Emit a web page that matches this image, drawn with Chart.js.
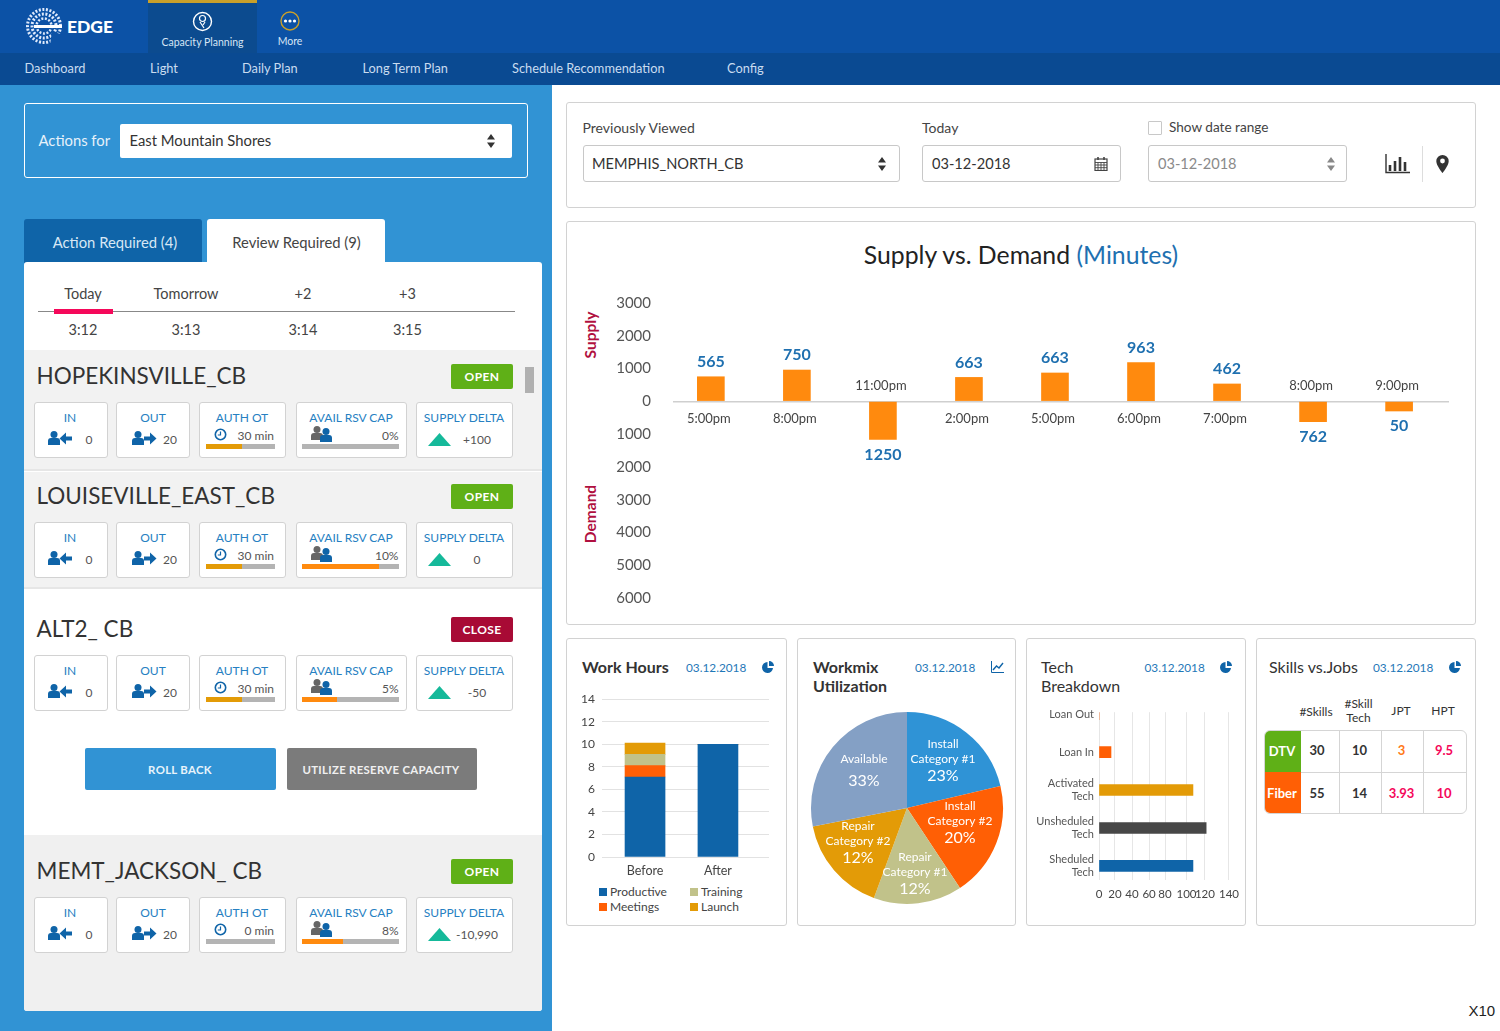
<!DOCTYPE html>
<html>
<head>
<meta charset="utf-8">
<title>Edge - Capacity Planning</title>
<script src="https://cdn.jsdelivr.net/npm/chart.js@4/dist/chart.umd.min.js"></script>
<style>
  html, body { margin: 0; padding: 0; background: #fff; width: 1500px; height: 1031px; overflow: hidden; font-family: Lato, sans-serif; color: #333; }
  .box { position: absolute; box-sizing: border-box; }
  .t { position: absolute; white-space: nowrap; transform: translateY(-50%); margin-top: -1px; }
  .c { position: absolute; white-space: nowrap; transform: translate(-50%, -50%); text-align: center; margin-top: -1px; }
  .r { position: absolute; white-space: nowrap; transform: translate(-100%, -50%); margin-top: -1px; }
  .card { position: absolute; box-sizing: border-box; background: #fff; border: 1px solid #d2d2d2; border-radius: 3px; }
  .field { position: absolute; box-sizing: border-box; background: #fff; border: 1px solid #c8c8c8; border-radius: 3px; }
  canvas { position: absolute; }
  svg { position: absolute; }
  .lab { color: #2680c2; font-size: 12px; }
  .val { color: #555; font-size: 12px; }
  .date { color: #1f78b8; font-size: 11.8px; }
  .nav { color: #c9dcf0; font-size: 12.8px; }
</style>
</head>
<body>
<div id="page"></div>
<canvas id="supplyChart" width="850" height="357" style="left:610px;top:272px"></canvas>
<canvas id="workChart" width="205" height="195" style="left:575px;top:685px"></canvas>
<canvas id="mixChart" width="200" height="200" style="left:807px;top:708px"></canvas>
<canvas id="techChart" width="216" height="214" style="left:1030px;top:694px"></canvas>

<script>
// Supply vs demand: bar heights read against the axis, printed figures kept apart
const SUPPLY_TIMES = ['5:00pm', '8:00pm', '11:00pm', '2:00pm', '5:00pm', '6:00pm', '7:00pm', '8:00pm', '9:00pm'];
const SUPPLY_BARS = [750, 955, -1160, 730, 865, 1180, 530, -620, -295];
const SUPPLY_LABELS = ['565', '750', '1250', '663', '663', '963', '462', '762', '50'];

// Work hours
const WORK_CATEGORIES = ['Before', 'After'];
const WORK_PRODUCTIVE = [7.1, 10];
const WORK_MEETINGS = [1, 0];
const WORK_TRAINING = [1, 0];
const WORK_LAUNCH = [1, 0];

const MIX_NAMES = [['Install', 'Category #1'], ['Install', 'Category #2'], ['Repair', 'Category #1'], ['Repair', 'Category #2'], ['Available']];
const MIX_SLICES = [21.3, 19.4, 14.9, 16.3, 28.1];
const MIX_PRINTED = ['23%', '20%', '12%', '12%', '33%'];
const MIX_COLORS = ['#2f93d6', '#ff5f05', '#c1c28a', '#e39b07', '#84a0c5'];
const MIX_LABEL_SPOTS = [[36, -49], [53, 13], [8, 64], [-49, 33], [-43, -39]];

// Tech breakdown
const TECH_CATEGORIES = ['Loan Out', 'Loan In', ['Activated', 'Tech'], ['Unsheduled', 'Tech'], ['Sheduled', 'Tech']];
const TECH_VALUES = [0, 15, 107, 121, 107];
const TECH_COLORS = ['#ff5f05', '#ff5f05', '#e39b07', '#474747', '#0f64a8'];
// the axis of this chart is not evenly spaced: share of the width at 0, 20, ... 140
const TECH_TICK_STOPS = [0, 0.123, 0.254, 0.385, 0.508, 0.673, 0.815, 1];

// Skills table
const SKILL_ROWS = ['DTV', 'Fiber'];
const SKILL_COUNTS = [30, 55];
const SKILL_TECHS = [10, 14];
const SKILL_JPT = ['3', '3.93'];
const SKILL_HPT = ['9.5', '10'];

// Left panel stations
const STATION_NAMES = ['HOPEKINSVILLE_CB', 'LOUISEVILLE_EAST_CB', 'ALT2_ CB', 'MEMT_JACKSON_ CB'];
const STATION_STATE = ['OPEN', 'OPEN', 'CLOSE', 'OPEN'];
const STATION_OT = ['30 min', '30 min', '30 min', '0 min'];
const STATION_OT_FILL = [53, 53, 53, 0];
const STATION_RSV = ['0%', '10%', '5%', '8%'];
const STATION_RSV_FILL = [0, 80, 36, 42];
const STATION_DELTA = ['+100', '0', '-50', '-10,990'];

const BLUE = '#0f64a8';
let html = '';

function text(cls, x, y, str, style) {
    html += `<div class="${cls}" style="left:${x}px;top:${y}px;${style || ''}">${str}</div>`;
}
function rect(x, y, w, h, style) {
    html += `<div class="box" style="left:${x}px;top:${y}px;width:${w}px;height:${h}px;${style || ''}"></div>`;
}
function svg(x, y, w, h, body, extra) {
    html += `<svg style="left:${x}px;top:${y}px" width="${w}" height="${h}" viewBox="0 0 ${w} ${h}" ${extra || ''}>${body}</svg>`;
}
function person(x, y, color) {
    return `<circle cx="${x + 6}" cy="${y + 3.5}" r="3.5" fill="${color}"/><path d="M${x} ${y + 14}v-4q0-3 3-3h6q3 0 3 3v4z" fill="${color}"/>`;
}
function updown(x, y, color) {
    svg(x, y, 10, 14, `<path d="M5 0l4 5.5H1zM5 14l4-5.5H1z" fill="${color}"/>`);
}
function pieIcon(x, y) {
    svg(x, y, 12, 12, `<path d="M5.5 1A5.5 5.5 0 1 0 11 7H5.5z" fill="${BLUE}"/><path d="M7 0a5 5 0 0 1 5 5H7z" fill="${BLUE}"/>`);
}

// header
rect(0, 0, 1500, 53, 'background:#0c52a6');
rect(0, 53, 1500, 32, 'background:#0a4a92');
rect(148, 0, 109, 53, 'background:#0c4b8f');
rect(148, 0, 109, 3, 'background:#c9a02a');
svg(26, 8, 38, 37, `
  <g fill="none" stroke="#dfeafc">
    <circle cx="18" cy="18" r="16.5" stroke-width="3" stroke-dasharray="2 1.6"/>
    <circle cx="18" cy="18" r="12" stroke-width="3" stroke-dasharray="2 1.6"/>
    <circle cx="18" cy="18" r="7.5" stroke-width="2.5" stroke-dasharray="2 1.6"/>
  </g>
  <path d="M8 18.5H36" stroke="#fff" stroke-width="3"/>
  <path d="M26 23L37 27L37 37L24 37z" fill="#0c52a6"/>`);
text('t', 67, 27, 'EDGE', 'color:#fff;font-size:17.5px;font-weight:900');
svg(192, 11, 21, 21, `<circle cx="10.5" cy="10.5" r="9" fill="none" stroke="#fff" stroke-width="1.4"/><circle cx="10.5" cy="7.5" r="3" fill="none" stroke="#fff" stroke-width="1.2"/><path d="M8 11l4 6M13 11l-2 3" stroke="#fff" stroke-width="1.2"/>`);
text('c', 202.5, 43, 'Capacity Planning', 'color:#d6e5f5;font-size:10.5px');
svg(280, 11, 20, 20, `<circle cx="10" cy="10" r="9" fill="none" stroke="#c9a02a" stroke-width="1.4"/><circle cx="5.5" cy="10" r="1.6" fill="#fff"/><circle cx="10" cy="10" r="1.6" fill="#fff"/><circle cx="14.5" cy="10" r="1.6" fill="#fff"/>`);
text('c', 290, 42, 'More', 'color:#d6e5f5;font-size:10.5px');
[['Dashboard', 24.5], ['Light', 150], ['Daily Plan', 242], ['Long Term Plan', 362.5], ['Schedule Recommendation', 512], ['Config', 727]]
    .forEach(n => text('t nav', n[1], 69, n[0]));

// left panel
rect(0, 85, 552, 946, 'background:#3193d4');
rect(24, 103, 504, 75, 'border:1px solid #fff;border-radius:3px');
text('t', 38.5, 141, 'Actions for', 'color:#e6f1fa;font-size:14.8px');
rect(120, 124, 392, 34, 'background:#fff;border-radius:2px');
text('t', 129.5, 141, 'East Mountain Shores', 'font-size:14.8px;color:#333');
updown(486, 134, '#333');

rect(24, 219, 177.5, 44, 'background:#0f64a8;border-radius:3px 3px 0 0');
text('c', 115, 242.5, 'Action Required (4)', 'color:#d8e8f5;font-size:14.8px');
rect(207, 219, 177.5, 44, 'background:#fff;border-radius:3px 3px 0 0');
text('c', 296.5, 242.5, 'Review Required (9)', 'color:#444;font-size:14.8px');
rect(24, 262, 518, 749, 'background:#fff;border-radius:3px');

[['Today', '3:12', 83], ['Tomorrow', '3:13', 186], ['+2', '3:14', 303], ['+3', '3:15', 407.5]].forEach(d => {
    text('c', d[2], 294, d[0], 'font-size:14.5px;color:#444');
    text('c', d[2], 329.5, d[1], 'font-size:14.5px;color:#444');
});
rect(38, 311, 476.5, 1, 'background:#888');
rect(53.5, 309, 59, 5, 'background:#f5085a');

// grey bands behind the stations
rect(24, 350, 518, 121, 'background:#f2f2f2;border-bottom:2px solid #e6e6e6');
rect(24, 472, 518, 117, 'background:#f2f2f2;border-bottom:2px solid #e6e6e6');
rect(24, 835, 518, 176, 'background:#f0f0f0;border-radius:0 0 3px 3px');
rect(525, 367, 8.5, 26, 'background:#b0b0b0');

const STATION_TOPS = [401.5, 521.5, 654.5, 896.5];
STATION_NAMES.forEach((name, i) => {
    const top = STATION_TOPS[i];
    text('t', 36.5, top - 25.5, name, 'font-size:22.5px;color:#333');
    const closed = STATION_STATE[i] === 'CLOSE';
    rect(451, top - 38, 62, 25.5, `background:${closed ? '#a80a35' : '#5fb017'};border-radius:2px`);
    text('c', 482, top - 25, STATION_STATE[i], 'color:#fff;font-size:12px;font-weight:700;letter-spacing:.4px');

    const card = (x, w) => { html += `<div class="card" style="left:${x}px;top:${top}px;width:${w}px;height:56.5px"></div>`; };
    card(34, 74); card(116, 74); card(199, 87); card(295.5, 111.5); card(416, 97);

    text('c lab', 70, top + 16.5, 'IN');
    svg(48, top + 28, 25, 16, person(0, 1, BLUE) + `<path d="M24 6.5H18V2.5L11.5 8.5L18 14.5V10.5H24z" fill="${BLUE}"/>`);
    text('c val', 89, top + 38, '0');

    text('c lab', 153, top + 16.5, 'OUT');
    svg(132, top + 28, 25, 16, person(0, 1, BLUE) + `<path d="M12 6.5H18V2.5L24.5 8.5L18 14.5V10.5H12z" fill="${BLUE}"/>`);
    text('c val', 170, top + 38, '20');

    text('c lab', 242, top + 16.5, 'AUTH OT');
    svg(214, top + 26, 13, 13, `<circle cx="6.5" cy="6.5" r="5.2" fill="none" stroke="${BLUE}" stroke-width="1.6"/><path d="M6.5 3.5V7H3.8" fill="none" stroke="${BLUE}" stroke-width="1.2"/>`);
    text('r val', 274, top + 34, STATION_OT[i]);
    rect(206, top + 42, 68.5, 5.5, 'background:#b4b4b4');
    rect(206, top + 42, 68.5 * STATION_OT_FILL[i] / 100, 5.5, 'background:#e39b07');

    text('c lab', 351, top + 16.5, 'AVAIL RSV CAP');
    svg(311, top + 24, 22, 16, person(0, 0, '#666') + person(9, 2, BLUE));
    text('r val', 398.5, top + 34, STATION_RSV[i]);
    rect(302, top + 42, 96.5, 5.5, 'background:#b4b4b4');
    rect(302, top + 42, 96.5 * STATION_RSV_FILL[i] / 100, 5.5, 'background:#ff8a0e');

    text('c lab', 464, top + 16.5, 'SUPPLY DELTA');
    svg(428, top + 31, 23, 13, '<path d="M11.5 0L23 13H0z" fill="#15b99a"/>');
    text('c val', 477, top + 38, STATION_DELTA[i]);
});
rect(85, 748, 190.5, 42, 'background:#3193d4;border-radius:2px');
text('c', 180, 770, 'ROLL BACK', 'color:#e8f3fb;font-size:11.4px;font-weight:700;letter-spacing:.3px');
rect(287, 748, 190, 42, 'background:#7b7b7b;border-radius:2px');
text('c', 381, 770, 'UTILIZE RESERVE CAPACITY', 'color:#f0f0f0;font-size:11.4px;font-weight:700;letter-spacing:.3px');

// filter card
html += '<div class="card" style="left:566px;top:102px;width:910px;height:106px"></div>';
text('t', 582.5, 127.5, 'Previously Viewed', 'font-size:14px;color:#444');
text('t', 922, 127.5, 'Today', 'font-size:14px;color:#444');
rect(1147.5, 121, 14, 14, 'background:#fff;border:1px solid #c8c8c8;border-radius:1px');
text('t', 1169, 128, 'Show date range', 'font-size:13.6px;color:#444');
[[582.5, 317.5], [922, 199], [1147.5, 199.5]].forEach(f => {
    html += `<div class="field" style="left:${f[0]}px;top:145px;width:${f[1]}px;height:37px"></div>`;
});
text('t', 592, 163.5, 'MEMPHIS_NORTH_CB', 'font-size:14.6px;color:#333');
text('t', 932, 163.5, '03-12-2018', 'font-size:14.6px;color:#333');
text('t', 1158, 163.5, '03-12-2018', 'font-size:14.6px;color:#8a8a8a');
updown(877, 157, '#333');
updown(1325.5, 157, '#888');
svg(1094, 157, 14, 14, '<rect x="1" y="2" width="12" height="11.5" fill="none" stroke="#444" stroke-width="1.2"/><path d="M1 5.5H13M1 8H13M1 10.7H13M4 5.5V13.5M7 5.5V13.5M10 5.5V13.5" stroke="#444" stroke-width=".9"/><path d="M4 0V3M10 0V3" stroke="#444" stroke-width="1.6"/>');
svg(1385, 154, 25, 20, '<path d="M1 0V18.5H25" fill="none" stroke="#333" stroke-width="1.4"/><path d="M5 11v6M10 7v10M15 3v14M20 8v9" stroke="#333" stroke-width="2.6"/>');
rect(1422, 146, 1, 36, 'background:#ddd');
svg(1436, 155, 13, 18, '<path d="M6.5 0A6.2 6.2 0 0 0 .3 6.2C.3 10.5 6.5 18 6.5 18S12.7 10.5 12.7 6.2A6.2 6.2 0 0 0 6.5 0z" fill="#333"/><circle cx="6.5" cy="6" r="2.4" fill="#fff"/>');

// supply vs demand card
html += '<div class="card" style="left:566px;top:221px;width:910px;height:404px"></div>';
text('c', 1021, 254.5, 'Supply vs. Demand <span style="color:#1f70b0">(Minutes)</span>', 'font-size:24.8px;color:#222');
text('c', 590, 336, 'Supply', 'transform:translate(-50%,-50%) rotate(-90deg);color:#b01040;font-size:15.5px;font-weight:700');
text('c', 590, 514.5, 'Demand', 'transform:translate(-50%,-50%) rotate(-90deg);color:#b01040;font-size:15.5px;font-weight:700');

// bottom cards
[[566, 220.5], [796.5, 219], [1026, 219.5], [1255.5, 220]].forEach(c => {
    html += `<div class="card" style="left:${c[0]}px;top:638px;width:${c[1]}px;height:288px"></div>`;
});
text('t', 582, 667, 'Work Hours', 'font-size:16px;font-weight:700;color:#333');
text('t date', 686, 667.5, '03.12.2018'); pieIcon(762, 661);
text('t', 813, 667, 'Workmix', 'font-size:16px;font-weight:700;color:#333');
text('t', 813, 686, 'Utilization', 'font-size:16px;font-weight:700;color:#333');
text('t date', 915, 667.5, '03.12.2018');
svg(991, 661, 13, 12, `<path d="M.5 0V11.5H13" fill="none" stroke="${BLUE}"/><path d="M2 9L5.5 5L8 7L12 2" fill="none" stroke="${BLUE}" stroke-width="1.4"/>`);
text('t', 1041, 667, 'Tech', 'font-size:16px;color:#333');
text('t', 1041, 686, 'Breakdown', 'font-size:16px;color:#333');
text('t date', 1144.5, 667.5, '03.12.2018'); pieIcon(1220, 661);
text('t', 1269, 667, 'Skills vs.Jobs', 'font-size:16px;color:#333');
text('t date', 1373, 667.5, '03.12.2018'); pieIcon(1449, 661);

// work hours legend, two columns
const LEGEND_COLORS = ['#0f64a8', '#c1c28a', '#ff5f05', '#e39b07'];
[['Productive', 599, 892], ['Training', 690, 892], ['Meetings', 599, 907], ['Launch', 690, 907]].forEach((l, i) => {
    rect(l[1], l[2] - 4, 8, 8, `background:${LEGEND_COLORS[i]}`);
    text('t', l[1] + 11, l[2], l[0], 'font-size:12px;color:#444');
});

// skills table
text('c', 1316, 712, '#Skills', 'font-size:12px;color:#333');
text('c', 1358.5, 703.5, '#Skill', 'font-size:12px;color:#333');
text('c', 1358.5, 717.5, 'Tech', 'font-size:12px;color:#333');
text('c', 1401, 711, 'JPT', 'font-size:12px;color:#333');
text('c', 1443, 711, 'HPT', 'font-size:12px;color:#333');
html += '<div class="box" style="left:1264px;top:729.5px;width:203px;height:84px;border:1px solid #d5d5d5;border-radius:6px;overflow:hidden">'
    + '<div class="box" style="left:0;top:0;width:36px;height:41px;background:#5fb017"></div>'
    + '<div class="box" style="left:0;top:41px;width:36px;height:42px;background:#ff5f05"></div>'
    + '<div class="box" style="left:36px;top:41px;width:166px;height:1px;background:#d5d5d5"></div>'
    + '<div class="box" style="left:74px;top:0;width:1px;height:84px;background:#d5d5d5"></div>'
    + '<div class="box" style="left:116px;top:0;width:1px;height:84px;background:#d5d5d5"></div>'
    + '<div class="box" style="left:158px;top:0;width:1px;height:84px;background:#d5d5d5"></div>'
    + '</div>';
const ROW_Y = [751, 793.5];
SKILL_ROWS.forEach((name, i) => {
    text('c', 1282, ROW_Y[i] + 0.5, name, 'color:#fff;font-size:13px;font-weight:700');
    text('c', 1317, ROW_Y[i], SKILL_COUNTS[i], 'font-size:13px;font-weight:700;color:#333');
    text('c', 1359.5, ROW_Y[i], SKILL_TECHS[i], 'font-size:13px;font-weight:700;color:#333');
    text('c', 1401.5, ROW_Y[i], SKILL_JPT[i], `font-size:13px;font-weight:700;color:${i === 0 ? '#ff7a1a' : '#f5085a'}`);
    text('c', 1444, ROW_Y[i], SKILL_HPT[i], 'font-size:13px;font-weight:700;color:#f5085a');
});

text('t', 1468.5, 1011, 'X10', 'font-family:Liberation Sans,sans-serif;font-size:15px;color:#222');
document.getElementById('page').innerHTML = html;

Chart.defaults.font.family = 'Lato';
Chart.defaults.animation = false;
Chart.defaults.responsive = false;
Chart.defaults.devicePixelRatio = 1;
Chart.defaults.plugins.legend.display = false;
Chart.defaults.plugins.tooltip.enabled = false;

// linear scale whose 20-unit steps have the uneven widths of the tech breakdown axis
class SteppedScale extends Chart.LinearScale {
    getPixelForValue(value) {
        const i = Math.min(Math.floor(value / 20), TECH_TICK_STOPS.length - 2);
        const a = TECH_TICK_STOPS[i];
        const b = TECH_TICK_STOPS[i + 1];
        return this.getPixelForDecimal(a + (b - a) * (value / 20 - i));
    }
}
SteppedScale.id = 'stepped';
SteppedScale.defaults = {};
Chart.register(SteppedScale);

// writes the time and the value next to each supply/demand bar
const supplyTextPlugin = {
    id: 'supplyText',
    afterDatasetsDraw(chart) {
        const ctx = chart.ctx;
        const zero = chart.scales.y.getPixelForValue(0);
        ctx.save();
        ctx.textAlign = 'center';
        ctx.textBaseline = 'middle';
        chart.getDatasetMeta(0).data.forEach((bar, i) => {
            const up = SUPPLY_BARS[i] > 0;
            ctx.font = '13px Lato';
            ctx.fillStyle = '#444';
            ctx.fillText(SUPPLY_TIMES[i], bar.x - 2, up ? zero + 17 : zero - 16);
            ctx.font = 'bold 16px Lato';
            ctx.fillStyle = '#1f70b0';
            ctx.fillText(SUPPLY_LABELS[i], bar.x, up ? bar.y - 15 : bar.y + 15);
        });
        ctx.restore();
    }
};

new Chart(document.getElementById('supplyChart'), {
    type: 'bar',
    data: {
        datasets: [{
            data: SUPPLY_BARS.map((v, i) => ({ x: i, y: v })),
            backgroundColor: '#ff8a0e',
            barThickness: 27
        }]
    },
    options: {
        layout: { padding: { right: 11 } },
        scales: {
            x: { type: 'linear', display: false, offset: false, min: -0.44, max: 8.58, grid: { display: false, offset: false } },
            y: {
                min: -6000,
                max: 3000,
                afterFit(axis) { axis.width = 63; },
                border: { display: false },
                grid: {
                    drawTicks: false,
                    color: c => (c.tick.value === 0 ? '#cfcfcf' : 'transparent'),
                    lineWidth: 1.5
                },
                ticks: {
                    stepSize: 1000,
                    padding: 22,
                    color: '#555',
                    font: { size: 15 },
                    callback: v => String(Math.abs(v))
                }
            }
        }
    },
    plugins: [supplyTextPlugin]
});

new Chart(document.getElementById('workChart'), {
    type: 'bar',
    data: {
        datasets: [
            { label: 'Productive', data: WORK_PRODUCTIVE.map((v, i) => ({ x: i, y: v })), backgroundColor: '#0f64a8', barThickness: 40 },
            { label: 'Meetings', data: WORK_MEETINGS.map((v, i) => ({ x: i, y: v })), backgroundColor: '#ff5f05', barThickness: 40 },
            { label: 'Training', data: WORK_TRAINING.map((v, i) => ({ x: i, y: v })), backgroundColor: '#c1c28a', barThickness: 40 },
            { label: 'Launch', data: WORK_LAUNCH.map((v, i) => ({ x: i, y: v })), backgroundColor: '#e39b07', barThickness: 40 }
        ]
    },
    options: {
        layout: { padding: { right: 11 } },
        scales: {
            x: {
                type: 'linear',
                stacked: true,
                offset: false,
                min: -0.59,
                max: 1.7,
                afterBuildTicks(axis) { axis.ticks = WORK_CATEGORIES.map((c, i) => ({ value: i })); },
                afterFit(axis) { axis.height = 23; },
                border: { display: false },
                grid: { display: false, drawTicks: false, offset: false },
                ticks: { autoSkip: false, maxRotation: 0, color: '#444', padding: 6, font: { size: 12.5 }, callback: v => WORK_CATEGORIES[v] }
            },
            y: {
                stacked: true,
                min: 0,
                max: 14,
                afterFit(axis) { axis.width = 27; },
                border: { display: false },
                grid: { drawTicks: false, color: '#e2e2e2', lineWidth: 1 },
                ticks: { stepSize: 2, padding: 7, color: '#444', font: { size: 12 } }
            }
        }
    }
});

// name and percentage inside each slice
const mixTextPlugin = {
    id: 'mixText',
    afterDatasetsDraw(chart) {
        const ctx = chart.ctx;
        const arc = chart.getDatasetMeta(0).data[0];
        ctx.save();
        ctx.textAlign = 'center';
        ctx.textBaseline = 'middle';
        ctx.fillStyle = '#fff';
        MIX_NAMES.forEach((lines, i) => {
            const cx = arc.x + MIX_LABEL_SPOTS[i][0];
            let cy = arc.y + MIX_LABEL_SPOTS[i][1] - (lines.length === 1 ? 10 : 0);
            if (lines.length === 2) cy -= 15;
            ctx.font = '12px Lato';
            lines.forEach((line, k) => ctx.fillText(line, cx, cy + k * 15));
            ctx.font = '16px Lato';
            ctx.fillText(MIX_PRINTED[i], cx, cy + lines.length * 15 + 2 + (lines.length === 1 ? 5 : 0));
        });
        ctx.restore();
    }
};

new Chart(document.getElementById('mixChart'), {
    type: 'pie',
    data: {
        labels: MIX_NAMES.map(n => n.join(' ')),
        datasets: [{ data: MIX_SLICES, backgroundColor: MIX_COLORS, borderWidth: 0, radius: 96 }]
    },
    plugins: [mixTextPlugin]
});

new Chart(document.getElementById('techChart'), {
    type: 'bar',
    data: {
        datasets: [{
            data: TECH_VALUES.map((v, i) => ({ x: v, y: i })),
            backgroundColor: TECH_COLORS,
            barThickness: 11
        }]
    },
    options: {
        indexAxis: 'y',
        layout: { padding: { right: 11 } },
        scales: {
            x: {
                type: 'stepped',
                min: 0,
                max: 140,
                afterFit(axis) { axis.height = 28; },
                border: { display: false },
                grid: { drawTicks: false, color: '#e6e6e6', lineWidth: 1 },
                ticks: { stepSize: 20, padding: 7, autoSkip: false, maxRotation: 0, color: '#444', font: { size: 11.5 } }
            },
            y: {
                type: 'linear',
                reverse: true,
                offset: false,
                min: -0.05,
                max: 4.37,
                afterBuildTicks(axis) { axis.ticks = TECH_CATEGORIES.map((c, i) => ({ value: i })); },
                afterFit(axis) { axis.width = 69; },
                border: { display: false },
                grid: { display: false, drawTicks: false, offset: false },
                ticks: { autoSkip: false, padding: 5, color: '#555', font: { size: 11 }, callback: v => TECH_CATEGORIES[v] }
            }
        }
    }
});
</script>
</body>
</html>
